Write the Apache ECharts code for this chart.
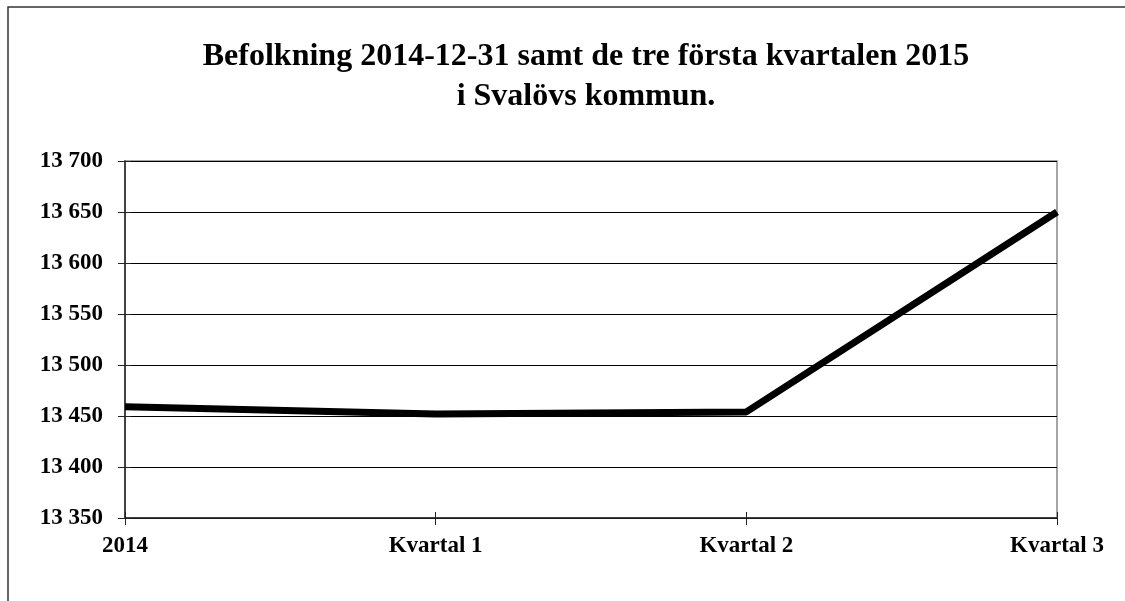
<!DOCTYPE html>
<html>
<head>
<meta charset="utf-8">
<script src="https://cdn.jsdelivr.net/npm/echarts@6/dist/echarts.min.js"></script>
<style>html,body{margin:0;padding:0;background:#fff;}#c{width:1125px;height:601px;}</style>
</head>
<body>
<div id="c"></div>
<script>
const categories = ['2014', 'Kvartal 1', 'Kvartal 2', 'Kvartal 3'];
const population = [13459, 13452, 13454, 13650];
const titleLines = ['Befolkning 2014-12-31 samt de tre första kvartalen 2015', 'i Svalövs kommun.'];

const chart = echarts.init(document.getElementById('c'), null, {renderer: 'canvas'});
const font = '"Liberation Serif", "Times New Roman", serif';
const fmt = v => String(v).replace(/\B(?=(\d{3})+(?!\d))/g, ' ');
chart.setOption({
  animation: false,
  backgroundColor: '#fff',
  title: {
    text: titleLines.join('\n'),
    left: 581, top: 32, textAlign: 'center',
    textStyle: {fontFamily: font, fontWeight: 'bold', fontSize: 32, lineHeight: 40, color: '#000'}
  },
  graphic: [{
    type: 'rect', shape: {x: 8, y: 7, width: 1130, height: 610},
    style: {fill: null, stroke: '#333', lineWidth: 1.5}, silent: true
  }],
  grid: {left: 125, right: 68, top: 161, bottom: 83, show: true, borderColor: '#888', borderWidth: 1.5, backgroundColor: 'transparent'},
  xAxis: [{
    type: 'category', data: categories, boundaryGap: false,
    axisLine: {lineStyle: {color: '#222', width: 1.5}},
    axisTick: {show: true, length: 7, lineStyle: {color: '#222'}},
    axisLabel: {margin: 17, fontFamily: font, fontWeight: 'bold', fontSize: 23, color: '#000', interval: 0}
  }, {
    type: 'category', data: categories, boundaryGap: false, position: 'bottom',
    axisLine: {show: false},
    axisTick: {show: true, inside: true, length: 6, lineStyle: {color: '#222'}},
    axisLabel: {show: false}, splitLine: {show: false}
  }],
  yAxis: [{
    type: 'value', min: 13350, max: 13700, interval: 50,
    axisLine: {show: true, lineStyle: {color: '#222', width: 1.5}},
    axisTick: {show: true, length: 7, lineStyle: {color: '#222'}},
    splitLine: {lineStyle: {color: '#000', width: 1}},
    axisLabel: {margin: 22, fontFamily: font, fontWeight: 'bold', fontSize: 23, color: '#000', formatter: fmt}
  }, {
    type: 'value', min: 13350, max: 13700, interval: 50, position: 'left',
    axisLine: {show: false},
    axisTick: {show: true, inside: true, length: 6, lineStyle: {color: '#222'}},
    axisLabel: {show: false}, splitLine: {show: false}
  }],
  series: [{
    type: 'line', data: population, symbol: 'none', xAxisIndex: 0, yAxisIndex: 0,
    lineStyle: {color: '#000', width: 7}
  }]
});
</script>
</body>
</html>
